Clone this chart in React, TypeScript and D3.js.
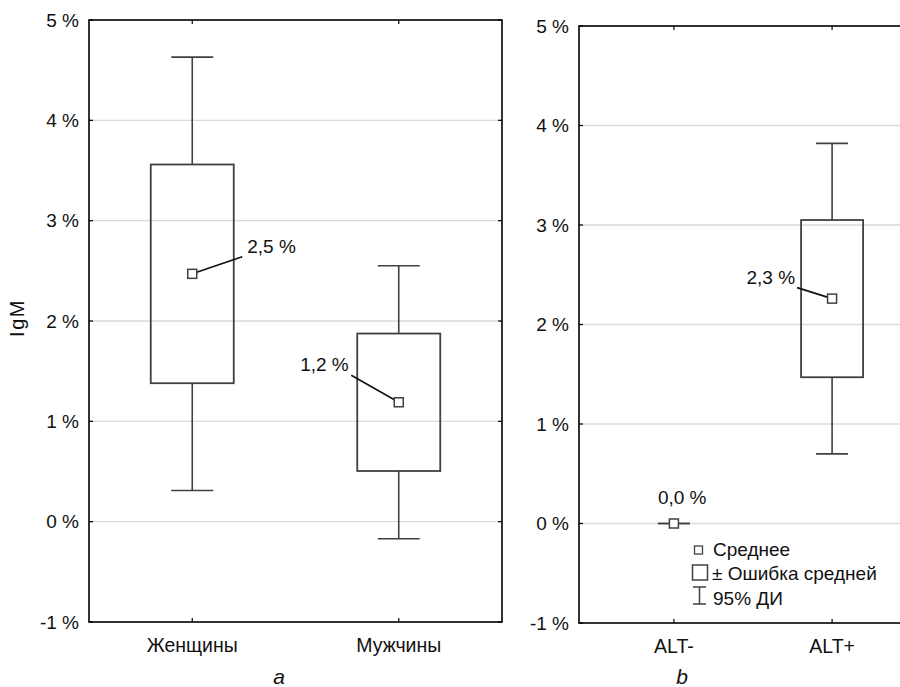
import React from "react";
import * as d3 from "d3";

const categoriesA = ["Женщины", "Мужчины"];
const meansA = [2.47, 1.19];
const seA = [1.09, 0.685];
const ciA = [2.16, 1.36];

const categoriesB = ["ALT-", "ALT+"];
const meansB = [0.0, 2.26];
const seB = [0.0, 0.79];
const ciB = [0.0, 1.56];

const yTicks = [-1, 0, 1, 2, 3, 4, 5];
const yLabel = "IgM";
const legendItems = ["Среднее", "± Ошибка средней", "95% ДИ"];
const panelCaptions = ["a", "b"];

const FONT = "'Liberation Sans', Arial, sans-serif";
const fmt = (v: number) => v.toFixed(1).replace(".", ",") + " %";

type LabelPos = { dx: number; dy: number; anchor: "start" | "end"; lx?: number; ly?: number };

interface PanelProps {
  cats: string[];
  means: number[];
  se: number[];
  ci: number[];
  x0: number;
  x1: number;
  top: number;
  bottom: number;
  padding: number;
  boxW: number;
  capW: number;
  labels: LabelPos[];
  caption: string;
  captionX: number;
}

function Panel(p: PanelProps) {
  const y = d3.scaleLinear().domain([-1, 5]).range([p.bottom, p.top]);
  const x = d3.scalePoint<string>().domain(p.cats).range([p.x0, p.x1]).padding(p.padding);
  const stroke = "#404040";
  return (
    <g>
      {yTicks.map((t) => (
        <g key={t}>
          {t > -1 && t < 5 && (
            <line x1={p.x0} x2={p.x1} y1={y(t)} y2={y(t)} stroke="#dadada" strokeWidth={1.3} />
          )}
          <line x1={p.x0} x2={p.x0 + 4} y1={y(t)} y2={y(t)} stroke="#000" strokeWidth={1.2} />
          <line x1={p.x1} x2={p.x1 - 4} y1={y(t)} y2={y(t)} stroke="#000" strokeWidth={1.2} />
          <text x={p.x0 - 10} y={y(t) + 6.8} textAnchor="end" fontSize={19} fontFamily={FONT} fill="#111">
            {t} %
          </text>
        </g>
      ))}
      {p.cats.map((c) => (
        <g key={c}>
          <line x1={x(c)} x2={x(c)} y1={p.bottom} y2={p.bottom - 4} stroke="#000" strokeWidth={1.2} />
          <line x1={x(c)} x2={x(c)} y1={p.top} y2={p.top + 4} stroke="#000" strokeWidth={1.2} />
          <text x={x(c)} y={p.bottom + 30} textAnchor="middle" fontSize={19.5} fontFamily={FONT} fill="#111">
            {c}
          </text>
        </g>
      ))}
      {p.cats.map((c, i) => {
        const cx = x(c) as number;
        const m = p.means[i];
        const lo = y(m - p.ci[i]);
        const hi = y(m + p.ci[i]);
        const bTop = y(m + p.se[i]);
        const bBot = y(m - p.se[i]);
        const cy = y(m);
        const lab = p.labels[i];
        return (
          <g key={c}>
            <line x1={cx} x2={cx} y1={hi} y2={bTop} stroke={stroke} strokeWidth={1.6} />
            <line x1={cx} x2={cx} y1={bBot} y2={lo} stroke={stroke} strokeWidth={1.6} />
            <line x1={cx - p.capW / 2} x2={cx + p.capW / 2} y1={hi} y2={hi} stroke={stroke} strokeWidth={1.6} />
            <line x1={cx - p.capW / 2} x2={cx + p.capW / 2} y1={lo} y2={lo} stroke={stroke} strokeWidth={1.6} />
            {bBot - bTop > 0 && (
              <rect x={cx - p.boxW / 2} y={bTop} width={p.boxW} height={bBot - bTop} fill="none" stroke={stroke} strokeWidth={1.8} />
            )}
            {lab.lx !== undefined && (
              <line x1={cx} y1={cy} x2={cx + (lab.lx as number)} y2={cy + (lab.ly as number)} stroke="#111" strokeWidth={1.6} />
            )}
            <rect x={cx - 4.5} y={cy - 4.5} width={9} height={9} fill="#fff" stroke={stroke} strokeWidth={1.5} />
            <text x={cx + lab.dx} y={cy + lab.dy} textAnchor={lab.anchor} fontSize={19} fontFamily={FONT} fill="#111">
              {fmt(m)}
            </text>
          </g>
        );
      })}
      <rect x={p.x0} y={p.top} width={p.x1 - p.x0} height={p.bottom - p.top} fill="none" stroke="#000" strokeWidth={1.6} />
      <text x={p.captionX} y={684} textAnchor="middle" fontSize={21} fontStyle="italic" fontFamily={FONT} fill="#111">
        {p.caption}
      </text>
    </g>
  );
}

export default function App() {
  return (
    <svg width={900} height={687} style={{ position: "absolute", left: 0, top: 0, background: "#fff" }}>
      <rect width={900} height={687} fill="#fff" />
      <text transform="translate(24,318) rotate(-90)" textAnchor="middle" fontSize={20} letterSpacing={1.5} fontFamily={FONT} fill="#111">
        {yLabel}
      </text>
      <Panel
        cats={categoriesA}
        means={meansA}
        se={seA}
        ci={ciA}
        x0={89}
        x1={502}
        top={20}
        bottom={622}
        padding={0.5}
        boxW={83}
        capW={42}
        labels={[
          { dx: 55, dy: -21, anchor: "start", lx: 50, ly: -17 },
          { dx: -50, dy: -31, anchor: "end", lx: -47.5, ly: -27 },
        ]}
        caption={panelCaptions[0]}
        captionX={279}
      />
      <Panel
        cats={categoriesB}
        means={meansB}
        se={seB}
        ci={ciB}
        x0={579}
        x1={927}
        top={26}
        bottom={623}
        padding={0.6}
        boxW={62}
        capW={32}
        labels={[
          { dx: -16, dy: -20, anchor: "start" },
          { dx: -37, dy: -15, anchor: "end", lx: -35, ly: -11 },
        ]}
        caption={panelCaptions[1]}
        captionX={682}
      />
      <g fontFamily={FONT} fontSize={19} fill="#111">
        <rect x={694.5} y={546} width={8} height={8} fill="#fff" stroke="#404040" strokeWidth={1.3} />
        <text x={713} y={556}>{legendItems[0]}</text>
        <rect x={692.5} y={565} width={15} height={15} fill="#fff" stroke="#404040" strokeWidth={1.5} />
        <text x={712} y={580}>{legendItems[1]}</text>
        <line x1={699.5} x2={699.5} y1={587} y2={604} stroke="#404040" strokeWidth={1.5} />
        <line x1={693} x2={706} y1={587} y2={587} stroke="#404040" strokeWidth={1.5} />
        <line x1={693} x2={706} y1={604} y2={604} stroke="#404040" strokeWidth={1.5} />
        <text x={713} y={605}>{legendItems[2]}</text>
      </g>
    </svg>
  );
}
